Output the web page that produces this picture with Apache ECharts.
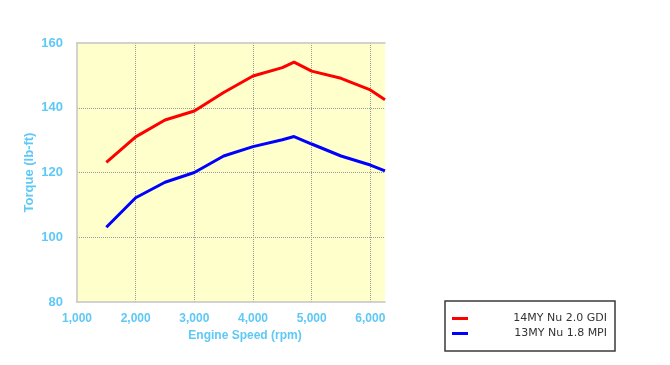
<!DOCTYPE html>
<html>
<head>
<meta charset="utf-8">
<script src="https://cdn.jsdelivr.net/npm/echarts@6/dist/echarts.min.js"></script>
<style>html,body{margin:0;padding:0;background:#fff}#c{width:670px;height:365px}</style>
</head>
<body>
<div id="c"></div>
<script>
var rpm = [1500, 2000, 2500, 3000, 3500, 4000, 4500, 4700, 5000, 5500, 6000, 6250];
var gdi = [123.1, 131.0, 136.2, 139.0, 144.7, 149.8, 152.4, 154.1, 151.3, 149.1, 145.5, 142.5];
var mpi = [103.1, 112.2, 117.0, 120.0, 125.1, 128.0, 130.1, 131.1, 128.8, 125.1, 122.3, 120.5];
var seriesNames = ['14MY Nu 2.0 GDI', '13MY Nu 1.8 MPI'];
var yTicks = [80, 100, 120, 140, 160];

function pairs(xs, ys) { return xs.map(function (x, i) { return [x, ys[i]]; }); }

var blue = '#5ec8f7';
var border = { show: true, lineStyle: { color: '#c4c4c4', width: 1.5 } };
var chart = echarts.init(document.getElementById('c'), null, { renderer: 'canvas' });
chart.setOption({
  animation: false,
  textStyle: { fontFamily: 'Liberation Sans, Arial, sans-serif' },
  grid: {
    left: 77, top: 43, right: 285, bottom: 63,
    show: true, backgroundColor: '#ffffcc', borderWidth: 0
  },
  xAxis: [{
    type: 'value', min: 1000, max: 6250, interval: 1000,
    name: 'Engine Speed (rpm)', nameLocation: 'middle', nameGap: 27,
    nameTextStyle: { color: blue, fontSize: 12, fontWeight: 'bold', padding: [0, 0, 0, 28] },
    axisLine: border, axisTick: { show: false },
    axisLabel: {
      color: blue, fontSize: 12, fontWeight: 'bold', margin: 11,
      formatter: function (v) { return v.toLocaleString('en-US'); },
      showMaxLabel: false
    },
    splitLine: { show: true, showMaxLine: false, showMinLine: false, lineStyle: { color: '#9a9a9a', type: [1, 1], width: 1 } }
  }, {
    type: 'value', position: 'top', min: 1000, max: 6250, interval: 1000,
    axisLine: border, axisTick: { show: false }, axisLabel: { show: false }, splitLine: { show: false }
  }],
  yAxis: {
    type: 'value', min: yTicks[0], max: yTicks[yTicks.length - 1], interval: 20,
    name: 'Torque (lb-ft)', nameLocation: 'middle', nameGap: 41, nameRotate: 90,
    nameTextStyle: { color: blue, fontSize: 13, fontWeight: 'bold' },
    axisLine: border, axisTick: { show: false },
    axisLabel: { color: blue, fontSize: 13, fontWeight: 'bold', margin: 14 },
    splitLine: { show: true, showMaxLine: false, showMinLine: false, lineStyle: { color: '#9a9a9a', type: [1, 1], width: 1 } }
  },
  legend: {
    orient: 'vertical', left: 445, top: 301,
    padding: [12, 8, 12, 7],
    borderColor: '#3a3a3a', borderWidth: 1.5, backgroundColor: '#fff',
    itemWidth: 16, itemHeight: 3, itemGap: 4,
    icon: 'rect',
    data: seriesNames,
    formatter: function (n) { return '{a|' + n + '}'; },
    textStyle: {
      color: '#333', fontSize: 11,
      rich: { a: { width: 134, align: 'right', fontSize: 11, color: '#333', fontFamily: 'DejaVu Sans' } }
    }
  },
  series: [
    { name: seriesNames[0], type: 'line', data: pairs(rpm, gdi), showSymbol: false, symbol: 'none',
      lineStyle: { color: '#ff0000', width: 3 }, itemStyle: { color: '#ff0000' } },
    { name: seriesNames[1], type: 'line', data: pairs(rpm, mpi), showSymbol: false, symbol: 'none',
      lineStyle: { color: '#0000ff', width: 3 }, itemStyle: { color: '#0000ff' } }
  ]
});
</script>
</body>
</html>
